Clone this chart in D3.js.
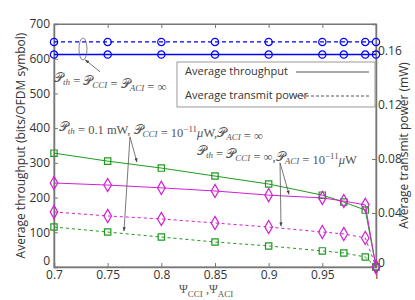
<!DOCTYPE html>
<html>
<head>
<meta charset="utf-8">
<script src="https://cdn.jsdelivr.net/npm/d3@7"></script>
<style>
  body { margin: 0; background: #fff; }
  svg { font-family: "Open Sans", sans-serif; }
  .ann { font-family: "Liberation Serif", "DejaVu Serif", serif; fill: #555; font-size: 12.5px; }
  .it { font-style: italic; }
</style>
</head>
<body>
<div id="chart"></div>
<script>
// x values (Psi_CCI, Psi_ACI)
const psi = [0.7, 0.75, 0.8, 0.85, 0.9, 0.95, 0.97, 0.99, 1.0];

// throughput (left axis, bits/OFDM symbol)
const thrUnlimited = [612, 612, 612, 612, 612, 612, 612, 612, 612];
const thrCCI = [328, 305, 285, 262, 239, 207, 187, 164, 0];
const thrACI = [242, 236, 228, 219, 207, 199, 190, 179, 0];

// transmit power (right axis, mW)
const pwrUnlimited = [0.1667, 0.1667, 0.1667, 0.1667, 0.1667, 0.1667, 0.1667, 0.1667, 0.1667];
const pwrCCI = [0.0296, 0.0259, 0.0222, 0.0185, 0.0156, 0.0119, 0.0104, 0.0074, 0];
const pwrACI = [0.0408, 0.0378, 0.0356, 0.0326, 0.0296, 0.0259, 0.0245, 0.0215, 0];

const xTicks = [0.7, 0.75, 0.8, 0.85, 0.9, 0.95, 1];
const yLeftTicks = [0, 100, 200, 300, 400, 500, 600, 700];
const yRightTicks = [0, 0.04, 0.08, 0.12, 0.16];

const W = 415, H = 300;
const m = {top: 24, right: 39, bottom: 33, left: 54};

const svg = d3.select("#chart").append("svg")
    .attr("width", W).attr("height", H);

const x = d3.scaleLinear().domain([0.7, 1]).range([m.left, W - m.right]);
const yL = d3.scaleLinear().domain([0, 700]).range([H - m.bottom, m.top]);
const yR = d3.scaleLinear().domain([0, 0.18]).range([H - m.bottom, m.top]);

const axisColor = "#777";

// frame
svg.append("rect")
    .attr("x", m.left).attr("y", m.top)
    .attr("width", W - m.left - m.right).attr("height", H - m.top - m.bottom)
    .attr("fill", "none").attr("stroke", axisColor).attr("stroke-width", 1);

let styleAxis = function(g) {
    g.select(".domain").attr("stroke", axisColor).attr("stroke-width", 1.5);
    g.selectAll(".tick line").attr("stroke", axisColor);
    g.selectAll(".tick text").attr("fill", "#333").style("font-size", "12px")
        .style("font-family", "'Open Sans', sans-serif");
};

// bottom axis, ticks inward
svg.append("g")
    .attr("transform", `translate(0,${H - m.bottom})`)
    .call(d3.axisBottom(x).tickValues(xTicks).tickSize(-4).tickPadding(3).tickFormat(d3.format("")))
    .call(styleAxis);
// top ticks
svg.append("g")
    .attr("transform", `translate(0,${m.top})`)
    .call(d3.axisTop(x).tickValues(xTicks).tickSize(-4).tickFormat(""))
    .call(styleAxis)
    .call(g => g.select(".domain").attr("stroke-width", 1));

svg.append("g")
    .attr("transform", `translate(${m.left},0)`)
    .call(d3.axisLeft(yL).tickValues(yLeftTicks).tickSize(-4).tickPadding(4))
    .call(styleAxis)
    .call(g => g.selectAll(".tick text").attr("dy", (d) => d === 0 ? "-0.2em" : "0.32em"));

svg.append("g")
    .attr("transform", `translate(${W - m.right},0)`)
    .call(d3.axisRight(yR).tickValues(yRightTicks).tickSize(-4).tickPadding(2).tickFormat(d3.format("")))
    .call(styleAxis)
    .call(g => g.selectAll(".tick text").attr("dy", (d) => d === 0 ? "-0.05em" : "0.32em"));

// axis titles
svg.append("text")
    .attr("transform", `translate(22,${(m.top + H - m.bottom) / 2}) rotate(-90)`)
    .attr("text-anchor", "middle").attr("dominant-baseline", "middle")
    .attr("fill", "#333").style("font-size", "12px")
    .text("Average throughput (bits/OFDM symbol)");

svg.append("text")
    .attr("transform", `translate(405,${(m.top + H - m.bottom) / 2}) rotate(-90)`)
    .attr("text-anchor", "middle").attr("dominant-baseline", "middle")
    .attr("fill", "#333").style("font-size", "12px")
    .text("Average transmit power (mW)");

const xl = svg.append("text")
    .attr("x", 179).attr("y", 293)
    .attr("fill", "#555")
    .style("font-family", "'Liberation Serif', serif").style("font-size", "12px");
xl.append("tspan").text("Ψ");
xl.append("tspan").attr("dy", 4).style("font-size", "9px").text("CCI");
xl.append("tspan").attr("dy", -4).text(" ,Ψ");
xl.append("tspan").attr("dy", 4).style("font-size", "9px").text("ACI");

// series
const series = [
    {vals: thrUnlimited, y: yL, color: "#0000ff", dash: null, marker: "circle", w: 1.5},
    {vals: pwrUnlimited, y: yR, color: "#0000ff", dash: "4,3", marker: "circle", w: 1.2},
    {vals: thrCCI, y: yL, color: "#1f9a1f", dash: null, marker: "square", w: 1},
    {vals: pwrCCI, y: yR, color: "#1f9a1f", dash: "3,3", marker: "square", w: 1},
    {vals: thrACI, y: yL, color: "#d21fd2", dash: null, marker: "diamond", w: 1},
    {vals: pwrACI, y: yR, color: "#d21fd2", dash: "3,3", marker: "diamond", w: 1}
];

const symbols = {
    circle: d3.symbol().type(d3.symbolCircle).size(42),
    square: d3.symbol().type(d3.symbolSquare).size(40),
    diamond: d3.symbol().type(d3.symbolDiamond).size(50)
};

series.forEach(s => {
    const line = d3.line().x((d, i) => x(psi[i])).y(d => s.y(d));
    svg.append("path")
        .datum(s.vals)
        .attr("d", line)
        .attr("fill", "none")
        .attr("stroke", s.color)
        .attr("stroke-width", s.w)
        .attr("stroke-dasharray", s.dash);
    svg.append("g").selectAll("path")
        .data(s.vals)
        .join("path")
        .attr("transform", (d, i) => `translate(${x(psi[i])},${s.y(d)})`)
        .attr("d", symbols[s.marker]())
        .attr("fill", "none")
        .attr("stroke", s.color)
        .attr("stroke-width", 1.2);
});

// legend
const lg = svg.append("g");
lg.append("rect")
    .attr("x", 177).attr("y", 62).attr("width", 198).attr("height", 45)
    .attr("fill", "#fff").attr("stroke", "#999");
lg.append("text").attr("x", 185).attr("y", 72).attr("dominant-baseline", "middle")
    .attr("fill", "#333").style("font-size", "11px").text("Average throughput");
lg.append("text").attr("x", 185).attr("y", 96).attr("dominant-baseline", "middle")
    .attr("fill", "#333").style("font-size", "11px").text("Average transmit power");
lg.append("line").attr("x1", 296).attr("x2", 369).attr("y1", 72).attr("y2", 72)
    .attr("stroke", "#555").attr("stroke-width", 1.2);
lg.append("line").attr("x1", 296).attr("x2", 369).attr("y1", 96).attr("y2", 96)
    .attr("stroke", "#555").attr("stroke-width", 1).attr("stroke-dasharray", "3,2");

// annotations
svg.append("defs").append("marker")
    .attr("id", "arr").attr("viewBox", "0 0 10 10")
    .attr("refX", 10).attr("refY", 5)
    .attr("markerWidth", 5).attr("markerHeight", 5)
    .attr("orient", "auto")
    .append("path").attr("d", "M0,1L10,5L0,9Z").attr("fill", "#444");

let arrow = function(x1, y1, x2, y2) {
    svg.append("line")
        .attr("x1", x(x1)).attr("y1", yL(y1)).attr("x2", x(x2)).attr("y2", yL(y2))
        .attr("stroke", "#555").attr("stroke-width", 0.8)
        .attr("marker-end", "url(#arr)");
};

svg.append("ellipse")
    .attr("cx", x(0.727)).attr("cy", yL(628)).attr("rx", 4).attr("ry", 11)
    .attr("fill", "none").attr("stroke", "#666").attr("stroke-width", 0.8);
arrow(0.743, 562, 0.729, 597);

let P = function(t, sub) {
    t.append("tspan").text("𝒫");
    t.append("tspan").attr("class", "it").attr("dy", 3).style("font-size", "9px").text(sub);
    t.append("tspan").attr("dy", -3).text("");
};
let micro = function(t) {
    t.append("tspan").text(" = 10");
    t.append("tspan").attr("dy", -5).style("font-size", "9px").text("−11");
    t.append("tspan").attr("dy", 5).attr("class", "it").text("μ");
    t.append("tspan").text("W");
};

const a1 = svg.append("text").attr("class", "ann")
    .attr("x", x(0.7)).attr("y", yL(533));
P(a1, "th"); a1.append("tspan").text(" = "); P(a1, "CCI");
a1.append("tspan").text(" = "); P(a1, "ACI"); a1.append("tspan").text(" = ∞");

const a2 = svg.append("text").attr("class", "ann")
    .attr("x", x(0.7045)).attr("y", yL(392));
P(a2, "th"); a2.append("tspan").text(" = 0.1 mW, ");
P(a2, "CCI"); micro(a2);
a2.append("tspan").text(","); P(a2, "ACI"); a2.append("tspan").text(" = ∞");
arrow(0.7708, 375, 0.7773, 302);
arrow(0.7708, 375, 0.7652, 103);

const a3 = svg.append("text").attr("class", "ann")
    .attr("x", x(0.8332)).attr("y", yL(323));
P(a3, "th"); a3.append("tspan").text(" = "); P(a3, "CCI");
a3.append("tspan").text(" = ∞,"); P(a3, "ACI"); micro(a3);
arrow(0.9106, 300, 0.919, 209);
arrow(0.9106, 300, 0.9115, 117);
</script>
</body>
</html>
